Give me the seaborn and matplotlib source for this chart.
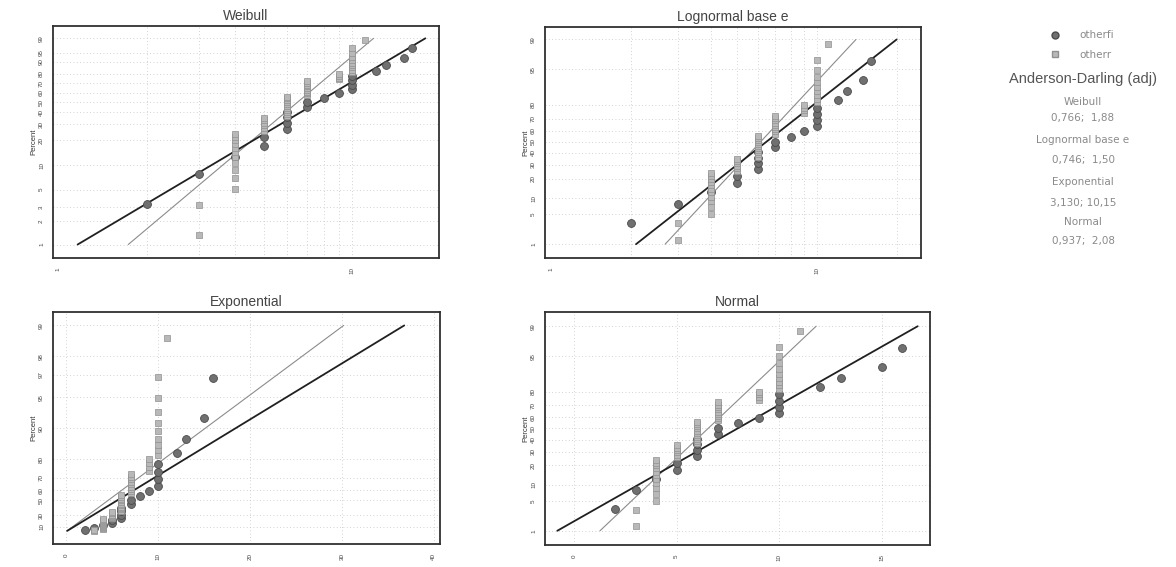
import math
import numpy as np
import pandas as pd
import matplotlib
matplotlib.use("Agg")
import matplotlib.pyplot as plt
import seaborn as sns
from matplotlib.lines import Line2D

# ---------------- data ----------------
series_names = ["otherfi", "otherr"]

fi_x = [2, 3, 4, 5, 5, 6, 6, 6, 6, 7, 7, 8, 9, 10, 10, 10, 10, 12, 13, 15, 16]
fi_pct = [3.27, 7.94, 12.62, 17.29, 21.96, 26.64, 31.31, 35.98, 40.65, 45.33,
          50.00, 54.67, 59.35, 64.02, 68.69, 73.36, 78.04, 82.71, 87.38, 92.06, 96.73]

r_x = [3, 3,
       4, 4, 4, 4, 4, 4, 4, 4, 4, 4, 4,
       5, 5, 5, 5, 5, 5,
       6, 6, 6, 6, 6, 6, 6, 6, 6, 6, 6,
       7, 7, 7, 7, 7, 7, 7, 7, 7,
       9, 9, 9, 9,
       10, 10, 10, 10, 10, 10, 10, 10, 10,
       11]
r_pct = [1.31, 3.18,
         5.06, 6.93, 8.80, 10.67, 12.55, 14.42, 16.29, 18.16, 20.04, 21.91, 23.78,
         25.66, 27.53, 29.40, 31.27, 33.15, 35.02,
         36.89, 38.76, 40.64, 42.51, 44.38, 46.25, 48.13, 50.00, 51.87, 53.75, 55.62,
         57.49, 59.36, 61.24, 63.11, 64.98, 66.85, 68.73, 70.60, 72.47,
         74.34, 76.22, 78.09, 79.96,
         81.84, 83.71, 85.58, 87.45, 89.33, 91.20, 93.07, 94.94, 96.82,
         98.69]

panels = ["Weibull", "Lognormal base e", "Exponential", "Normal"]
# fitted line end points: x at 1 % and at 99 %
fit_pct = [1, 99]
fit_fi = {"Weibull": [1.164, 17.7], "Lognormal base e": [2.09, 20.0],
          "Exponential": [0.08, 36.8], "Normal": [-0.81, 16.75]}
fit_r = {"Weibull": [1.73, 11.8], "Lognormal base e": [2.69, 14.06],
         "Exponential": [0.066, 30.2], "Normal": [1.27, 11.8]}

weib_ticks = [1, 2, 3, 5, 10, 20, 30, 40, 50, 60, 70, 80, 90, 95, 99]
prob_ticks = [1, 5, 10, 20, 30, 40, 50, 60, 70, 80, 95, 99]
expo_ticks = [10, 30, 50, 60, 70, 80, 90, 95, 97, 98, 99]

ad_lines = ["Weibull", "0,766;  1,88", "Lognormal base e", "0,746;  1,50",
            "Exponential", "3,130; 10,15", "Normal", "0,937;  2,08"]

# ---------------- scales ----------------
_erf = np.vectorize(math.erf)
_zg = np.linspace(-9, 9, 40001)
_cg = 0.5 * (1 + _erf(_zg / math.sqrt(2)))


def probit_f(p):
    p = np.clip(np.asarray(p, float) / 100.0, 1e-9, 1 - 1e-9)
    return np.interp(p, _cg, _zg)


def probit_i(z):
    return 100 * 0.5 * (1 + _erf(np.asarray(z, float) / math.sqrt(2)))


def weib_f(p):
    p = np.clip(np.asarray(p, float) / 100.0, 1e-9, 1 - 1e-12)
    return np.log(-np.log(1 - p))


def weib_i(w):
    return 100 * (1 - np.exp(-np.exp(np.asarray(w, float))))


def expo_f(p):
    p = np.minimum(np.asarray(p, float) / 100.0, 1 - 1e-12)
    return -np.log(1 - p)


def expo_i(v):
    return 100 * (1 - np.exp(-np.asarray(v, float)))


sns.set_theme(style="white")
plt.rcParams["font.family"] = ["Liberation Sans", "DejaVu Sans"]

W, H = 1176, 567
fig = plt.figure(figsize=(W / 100, H / 100), dpi=100)


def add_ax(l, t, r, b):
    return fig.add_axes([l / W, 1 - b / H, (r - l) / W, (b - t) / H])


boxes = {"Weibull": (53, 26, 439, 258), "Lognormal base e": (545, 27, 921, 258),
         "Exponential": (53, 312, 440, 544), "Normal": (545, 312, 930, 545)}

df = pd.concat([
    pd.DataFrame({"x": fi_x, "pct": fi_pct, "series": series_names[0]}),
    pd.DataFrame({"x": r_x, "pct": r_pct, "series": series_names[1]}),
])

grid_kw = dict(color="#c4c4c4", lw=0.6, ls=(0, (1, 3)))

for name in panels:
    ax = add_ax(*boxes[name])
    if name == "Weibull":
        ax.set_xscale("log")
        ax.set_yscale("function", functions=(weib_f, weib_i))
        ax.set_xlim(0.96, 19.7)
        ax.set_ylim(0.671, 99.87)
        yt = weib_ticks
        xt = [1, 2, 3, 4, 5, 6, 7, 8, 9, 10]
        xl = ["1"] + [""] * 8 + ["10"]
    elif name == "Lognormal base e":
        ax.set_xscale("log")
        ax.set_yscale("function", functions=(probit_f, probit_i))
        ax.set_xlim(0.95, 24.7)
        ax.set_ylim(0.4145, 99.547)
        yt = prob_ticks
        xt = [1, 2, 3, 4, 5, 6, 7, 8, 9, 10, 20]
        xl = ["1"] + [""] * 8 + ["10", ""]
    elif name == "Exponential":
        ax.set_yscale("function", functions=(expo_f, expo_i))
        ax.set_xlim(-1.46, 40.7)
        ax.set_ylim(-32.7, 99.26)
        yt = expo_ticks
        xt = [0, 10, 20, 30, 40]
        xl = [str(v) for v in xt]
    else:
        ax.set_yscale("function", functions=(probit_f, probit_i))
        ax.set_xlim(-1.41, 17.35)
        ax.set_ylim(0.402, 99.598)
        yt = prob_ticks
        xt = [0, 5, 10, 15]
        xl = [str(v) for v in xt]

    ax.set_xticks(xt)
    ax.set_xticklabels(xl)
    ax.xaxis.set_minor_locator(matplotlib.ticker.NullLocator())
    ax.set_yticks(yt)
    ax.set_yticklabels([str(v) for v in yt])
    ax.yaxis.set_minor_locator(matplotlib.ticker.NullLocator())

    for v in xt[1:] if name in ("Weibull", "Lognormal base e") else xt:
        ax.axvline(v, **grid_kw, zorder=0)
    for v in yt:
        ax.axhline(v, **grid_kw, zorder=0)

    # fitted lines
    lf = pd.DataFrame({"x": fit_fi[name], "pct": fit_pct})
    lr = pd.DataFrame({"x": fit_r[name], "pct": fit_pct})
    sns.lineplot(data=lr, x="x", y="pct", ax=ax, color="#8c8c8c", lw=0.8,
                 sort=False, estimator=None, zorder=2)
    sns.lineplot(data=lf, x="x", y="pct", ax=ax, color="#202020", lw=1.3,
                 sort=False, estimator=None, zorder=2)

    sns.scatterplot(data=df[df.series == "otherfi"], x="x", y="pct", ax=ax,
                    marker="o", s=32, color="#707070", edgecolor="#4a4a4a",
                    linewidth=0.6, zorder=3, legend=False)
    sns.scatterplot(data=df[df.series == "otherr"], x="x", y="pct", ax=ax,
                    marker="s", s=22, color="#b8b8b8", edgecolor="#909090",
                    linewidth=0.5, zorder=4, legend=False)

    ax.set_xlabel("")
    ax.set_ylabel("Percent", fontsize=5.5, color="#333333", labelpad=1)
    ax.set_title(name, fontsize=10, color="#444444", pad=4)
    for s in ax.spines.values():
        s.set_color("#303030")
        s.set_linewidth(1.3)
    ax.tick_params(axis="both", which="both", direction="out", length=5,
                   width=1.0, color="#303030", labelsize=4.5,
                   labelcolor="#444444", pad=1.5)
    ax.tick_params(axis="both", labelrotation=90)
    for lab in ax.get_yticklabels():
        lab.set_va("center")

# right hand legend and statistics
handles = [Line2D([], [], ls="", marker="o", ms=5, mfc="#707070", mec="#4a4a4a"),
           Line2D([], [], ls="", marker="s", ms=4.2, mfc="#b8b8b8", mec="#909090")]
fig.legend(handles, series_names, loc="upper left",
           bbox_to_anchor=(1040 / W, 1 - 26 / H), frameon=False,
           prop={"family": "DejaVu Sans", "size": 7.5}, labelcolor="#8a8a8a",
           handletextpad=1.4, labelspacing=0.9, borderaxespad=0)
fig.text(1083 / W, 1 - 79 / H, "Anderson-Darling (adj)", ha="center",
         va="center", fontsize=10.5, color="#555555")
ad_y = [101.7, 118, 140, 160, 182, 203, 222, 241]
for txt, yy in zip(ad_lines, ad_y):
    fig.text(1083 / W, 1 - yy / H, txt, ha="center", va="center",
             fontsize=7.5, color="#8a8a8a", family="DejaVu Sans")

fig.savefig("out.png", dpi=100)
